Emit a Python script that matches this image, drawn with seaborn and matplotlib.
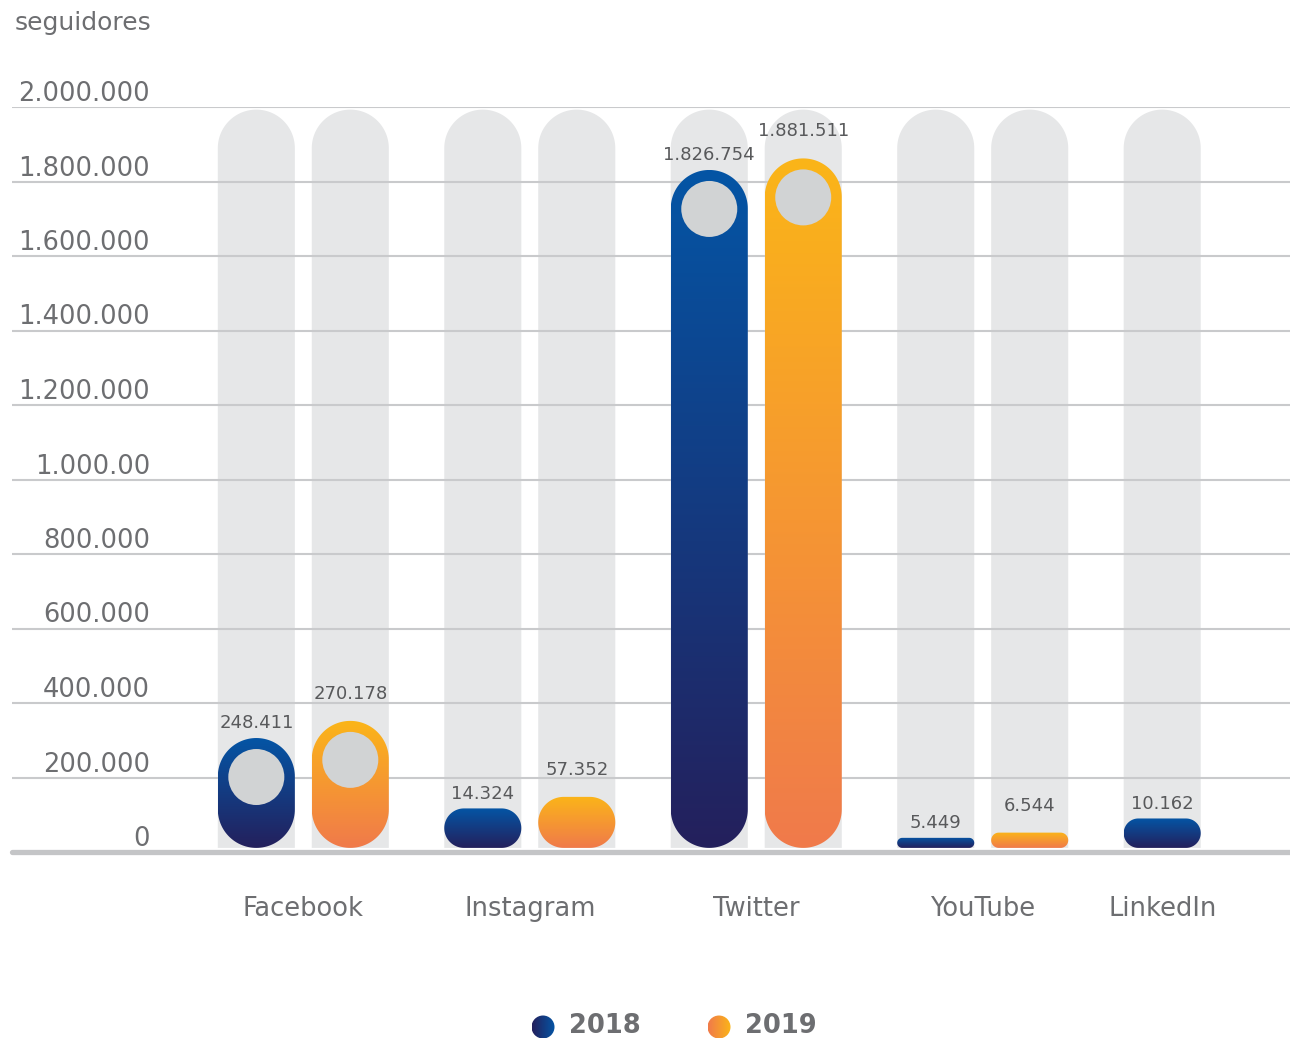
import numpy as np
import pandas as pd
import seaborn as sns
import matplotlib
matplotlib.use("Agg")
import matplotlib.pyplot as plt
from matplotlib.path import Path
from matplotlib.patches import PathPatch, Ellipse, Circle
from matplotlib.colors import LinearSegmentedColormap

# ---------------- data ----------------
platforms = ["Facebook", "Instagram", "Twitter", "YouTube", "LinkedIn"]
years = ["2018", "2019"]
followers_2018 = [248411, 14324, 1826754, 5449, 10162]
followers_2019 = [270178, 57352, 1881511, 6544, None]
labels_2018 = ["248.411", "14.324", "1.826.754", "5.449", "10.162"]
labels_2019 = ["270.178", "57.352", "1.881.511", "6.544", None]
# bar heights as drawn in the picture (the original is not to scale for small values)
drawn_2018 = [306000, 117000, 1831000, 38000, 90000]
drawn_2019 = [352000, 148000, 1862000, 52000, None]
y_ticks = [0, 200000, 400000, 600000, 800000, 1000000,
           1200000, 1400000, 1600000, 1800000, 2000000]
y_tick_labels = ["0", "200.000", "400.000", "600.000", "800.000", "1.000.00",
                 "1.200.000", "1.400.000", "1.600.000", "1.800.000", "2.000.000"]
track_top = 1993000

# ---------------- style ----------------
TXT = "#6d6e71"
VAL = "#58595b"
GRID = "#c9cacc"
TRACK = "#e6e7e8"
DOT = "#d1d3d4"
cmaps = {
    "2018": LinearSegmentedColormap.from_list("c18", ["#24205c", "#0455a5"]),
    "2019": LinearSegmentedColormap.from_list("c19", ["#f07a4b", "#fbb518"]),
}
label_offset_pt = {"2018": 4, "2019": 13}

# ---------------- layout of bars (group gap) ----------------
rows = []
pos = 0.0
GROUP_GAP = 1.41
centers = []
for i, p in enumerate(platforms):
    vals = [(years[0], drawn_2018[i], labels_2018[i], followers_2018[i]),
            (years[1], drawn_2019[i], labels_2019[i], followers_2019[i])]
    vals = [v for v in vals if v[1] is not None]
    start = pos
    for j, (yr, h, lab, f) in enumerate(vals):
        rows.append(dict(platform=p, year=yr, pos=pos, drawn=h, label=lab,
                         followers=f, track=track_top))
        if j < len(vals) - 1:
            pos += 1.0
    centers.append((start + pos) / 2)
    pos += GROUP_GAP
df = pd.DataFrame(rows)

sns.set_theme(style="white")
plt.rcParams["font.family"] = ["DejaVu Sans"]

W, H = 1290, 1039
fig = plt.figure(figsize=(W / 100, H / 100), dpi=100)
ax = fig.add_axes([12 / W, (H - 852) / H, 1 - 12 / W, 745 / H])

XLIM = (-2.6, 11.0)
YLIM = (0, 2000000)
BOTTOM = 11000
BW = 0.82

# tracks (grey columns) and bars via seaborn, then restyled
sns.barplot(data=df, x="pos", y="track", native_scale=True, width=BW,
            color=TRACK, errorbar=None, ax=ax, zorder=1)
n_tracks = len(ax.patches)
sns.barplot(data=df, x="pos", y="drawn", native_scale=True, width=BW,
            color="#0455a5", errorbar=None, ax=ax, zorder=3)
ax.set_xlim(*XLIM)
ax.set_ylim(*YLIM)
fig.canvas.draw()

def px_scale():
    o = ax.transData.transform((0, 0))
    a = ax.transData.transform((1, 1))
    return a[0] - o[0], a[1] - o[1]

sx, sy = px_scale()  # px per data unit

def rounded_path(x0, x1, y0, y1, r_px, round_bottom=True):
    h_px = (y1 - y0) * sy
    w_px = (x1 - x0) * sx
    r = min(r_px, h_px / (2 if round_bottom else 1), w_px / 2)
    rx, ry = r / sx, r / sy
    t = np.linspace(0, np.pi / 2, 30)
    pts = []
    pts += list(zip(x1 - rx + rx * np.cos(t), y1 - ry + ry * np.sin(t)))
    pts += list(zip(x0 + rx + rx * np.cos(t + np.pi / 2), y1 - ry + ry * np.sin(t + np.pi / 2)))
    if round_bottom:
        pts += list(zip(x0 + rx + rx * np.cos(t + np.pi), y0 + ry + ry * np.sin(t + np.pi)))
        pts += list(zip(x1 - rx + rx * np.cos(t + 1.5 * np.pi), y0 + ry + ry * np.sin(t + 1.5 * np.pi)))
    else:
        pts += [(x0, y0), (x1, y0)]
    pts.append(pts[0])
    codes = [Path.MOVETO] + [Path.LINETO] * (len(pts) - 2) + [Path.CLOSEPOLY]
    return Path(pts, codes)

R_PX = 39
patches = list(ax.patches)
track_patches = patches[:n_tracks]
bar_patches = patches[n_tracks:]

for rect in track_patches:
    x0 = rect.get_x()
    x1 = x0 + rect.get_width()
    y1 = rect.get_height()
    rect.set_visible(False)
    pp = PathPatch(rounded_path(x0, x1, BOTTOM, y1, R_PX, round_bottom=False),
                   fc=TRACK, ec="none", zorder=1)
    ax.add_patch(pp)

grad = np.linspace(0, 1, 256).reshape(-1, 1)
for rect in bar_patches:
    x0 = rect.get_x()
    x1 = x0 + rect.get_width()
    xc = (x0 + x1) / 2
    top = rect.get_height()
    rect.set_visible(False)
    row = df.iloc[(df["pos"] - xc).abs().argmin()]
    clip = PathPatch(rounded_path(x0, x1, BOTTOM, top, R_PX), fc="none",
                     ec="none", transform=ax.transData)
    im = ax.imshow(grad, extent=[x0, x1, BOTTOM, top], origin="lower",
                   cmap=cmaps[row["year"]], aspect="auto", zorder=3,
                   interpolation="bicubic")
    im.set_clip_path(clip)
    if (top - BOTTOM) * sy > 100:
        cy = top - R_PX / sy
        ax.add_patch(Ellipse((xc, cy), width=2 * 28 / sx, height=2 * 28 / sy,
                             fc=DOT, ec="none", zorder=4))
    ax.annotate(row["label"], (xc, top), xytext=(0, label_offset_pt[row["year"]]),
                textcoords="offset points", ha="center", va="bottom",
                fontsize=13, color=VAL, zorder=5)

ax.set_xlim(*XLIM)
ax.set_ylim(*YLIM)

# grid and baseline
ax.grid(False)
for yv in y_ticks[1:]:
    ax.axhline(yv, color=GRID, lw=1.5, zorder=2)
ax.axhline(0, color="#c4c5c7", lw=3.8, zorder=2.6, clip_on=False)

for s in ax.spines.values():
    s.set_visible(False)

ax.set_yticks(y_ticks, y_tick_labels)
ax.tick_params(axis="y", length=0, pad=-99.4, labelsize=18.5, labelcolor=TXT)
for t in ax.get_yticklabels():
    t.set_va("bottom")
ax.set_xticks(centers, platforms)
ax.tick_params(axis="x", length=0, pad=32, labelsize=18.5, labelcolor=TXT)
ax.set_xlabel("")
ax.set_ylabel("")

fig.text(15 / W, 1 - 23 / H, "seguidores", ha="left", va="center",
         fontsize=18, color=TXT)

# legend (overlay in pixel space)
lax = fig.add_axes([0, 0, 1, 1], zorder=10)
lax.set_xlim(0, W)
lax.set_ylim(H, 0)
lax.axis("off")
hgrad = np.linspace(0, 1, 256).reshape(1, -1)
for yr, cxp, txp in [("2018", 543, 569), ("2019", 719, 745)]:
    r = 11.5
    cy = 1027
    circ = Circle((cxp, cy), r, transform=lax.transData, fc="none", ec="none")
    im = lax.imshow(hgrad, extent=[cxp - r, cxp + r, cy + r, cy - r],
                    cmap=cmaps[yr], aspect="auto", interpolation="bicubic")
    im.set_clip_path(circ)
    lax.text(txp, cy - 1, yr, ha="left", va="center", fontsize=18.5,
             fontweight="bold", color=TXT)
lax.set_xlim(0, W)
lax.set_ylim(H, 0)

fig.savefig("out.png", dpi=100)
